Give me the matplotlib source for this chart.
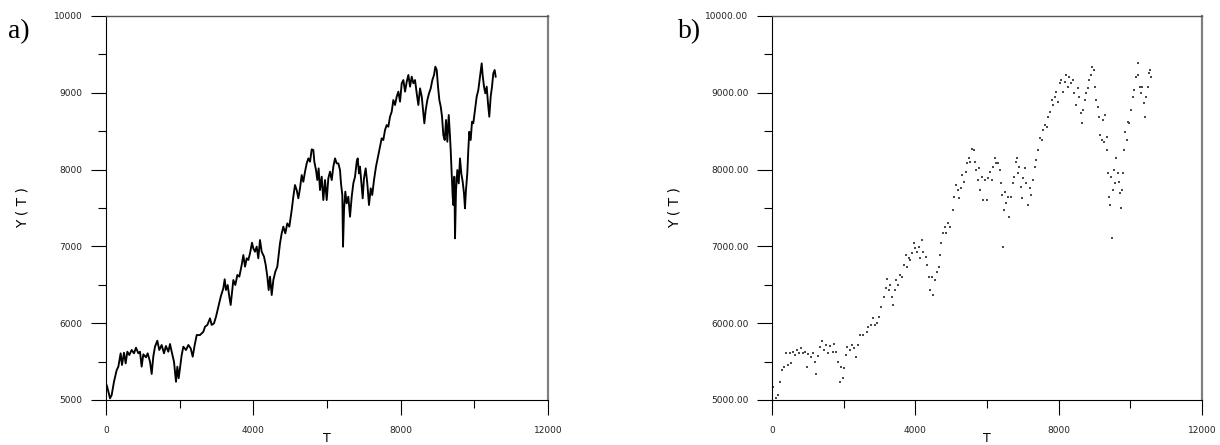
import matplotlib
matplotlib.use('Agg')
import matplotlib.pyplot as plt
from matplotlib.ticker import MultipleLocator, FormatStrFormatter

# series (T, Y(T))
t_values = [0, 36, 109, 154, 217, 290, 335, 398, 434, 489,
            534, 579, 633, 697, 760, 814, 878, 923, 968, 1013,
            1086, 1131, 1195, 1240, 1285, 1330, 1393, 1447, 1511, 1575,
            1626, 1692, 1738, 1783, 1846, 1900, 1937, 1973, 2009, 2055,
            2100, 2172, 2236, 2299, 2354, 2408, 2463,
            2552, 2643, 2688, 2751, 2824, 2869, 2932, 2987, 3050, 3115,
            3185, 3222, 3258, 3304, 3348, 3385, 3429, 3457, 3511, 3566,
            3620, 3684, 3729, 3775, 3820, 3864, 3910, 3964, 3999, 4045,
            4091, 4135, 4181, 4227, 4290, 4336, 4380, 4417, 4453, 4499,
            4543, 4597, 4651, 4689, 4724, 4770, 4814, 4868, 4922, 4977,
            5042, 5086, 5131, 5177, 5222, 5267, 5313, 5357, 5403, 5449,
            5493, 5539, 5585, 5629, 5656, 5701, 5737, 5773, 5810, 5856,
            5900, 5946, 5992, 6036, 6082, 6128, 6172, 6218, 6263, 6308,
            6353, 6380, 6416, 6435, 6462, 6497, 6535, 6579, 6625, 6671,
            6715, 6761, 6807, 6833, 6869, 6896, 6942, 6969, 7004, 7050,
            7094, 7140, 7187, 7228, 7276, 7330, 7366, 7420,
            7485, 7529, 7575, 7621, 7665, 7711, 7757, 7801, 7847, 7893,
            7937, 7983, 8029, 8073, 8119, 8165, 8209, 8255, 8300, 8345,
            8390, 8436, 8480, 8526, 8572, 8616, 8643, 8680, 8724, 8770,
            8816, 8860, 8906, 8941, 8979, 9014, 9050, 9088, 9123, 9158,
            9196, 9231, 9267, 9305, 9340, 9358, 9385, 9412, 9430, 9457,
            9476, 9503, 9538, 9576, 9611, 9646, 9684, 9719, 9746, 9773,
            9809, 9836, 9863, 9901, 9937, 9972, 10018, 10064, 10108, 10154,
            10200, 10225, 10263, 10298, 10336, 10371, 10406, 10444, 10480, 10515,
            10552, 10579]

y_values = [5217, 5165, 5022, 5065, 5238, 5390, 5434, 5608, 5456, 5616,
            5477, 5629, 5586, 5651, 5608, 5681, 5608, 5629, 5434, 5595,
            5556, 5608, 5499, 5339, 5569, 5694, 5772, 5651, 5716, 5608,
            5703, 5629, 5729, 5629, 5499, 5238, 5434, 5283, 5413, 5586,
            5694, 5651, 5716, 5673, 5564, 5716, 5846,
            5846, 5889, 5954, 5977, 6063, 5977, 5998, 6085, 6215, 6345,
            6454, 6572, 6432, 6497, 6345, 6237, 6432, 6562, 6497, 6628,
            6606, 6758, 6888, 6736, 6845, 6823, 6910, 7048, 6975, 6931,
            6997, 6845, 7083, 6931, 6866, 6758, 6606, 6432, 6606, 6367,
            6562, 6671, 6736, 6888, 7040, 7170, 7257, 7170, 7300, 7257,
            7474, 7647, 7799, 7734, 7626, 7756, 7929, 7842, 7973, 8081,
            8146, 8103, 8264, 8255, 8103, 7995, 7864, 8016, 7734, 7908,
            7604, 7864, 7604, 7886, 7973, 7864, 8038, 8146, 8081, 8081,
            7995, 7821, 7669, 6996, 7474, 7713, 7561, 7647, 7387, 7647,
            7821, 7908, 8103, 8146, 7951, 8038, 7778, 7626, 7886, 8016,
            7821, 7539, 7756, 7669, 7864, 8038, 8125, 8255,
            8407, 8385, 8515, 8580, 8558, 8689, 8754, 8906, 8841, 8950,
            9015, 8885, 9124, 9166, 9015, 9145, 9232, 9080, 9210, 9124,
            9166, 8993, 8841, 9058, 8950, 8733, 8603, 8776, 8906, 8993,
            9058, 9166, 9232, 9340, 9297, 9080, 8906, 8819, 8689, 8450,
            8385, 8646, 8363, 8711, 8428, 8255, 7951, 7647, 7539, 7908,
            7105, 7734, 7994, 7821, 8146, 7951, 7842, 7691, 7496, 7734,
            7951, 8255, 8493, 8385, 8624, 8603, 8776, 8950, 9037, 9210,
            9384, 9232, 9080, 8993, 9080, 8863, 8689, 8950, 9080, 9253,
            9297, 9210]

x_ticks = [0, 4000, 8000, 12000]
y_ticks = [5000, 6000, 7000, 8000, 9000, 10000]

fig = plt.figure(figsize=(12.2, 4.45), dpi=100)
ax_a = fig.add_axes([106 / 1220, 1 - 400 / 445, 442 / 1220, 384 / 445])
ax_b = fig.add_axes([772 / 1220, 1 - 400 / 445, 430 / 1220, 384 / 445])


def style_axes(ax, yfmt):
    ax.set_xlim(0, 12000)
    ax.set_ylim(5000, 10000)
    ax.set_xticks(x_ticks)
    ax.set_yticks(y_ticks)
    ax.xaxis.set_minor_locator(MultipleLocator(2000))
    ax.yaxis.set_minor_locator(MultipleLocator(500))
    ax.yaxis.set_major_formatter(FormatStrFormatter(yfmt))
    ax.tick_params(which='major', direction='out', length=11, width=0.8,
                   labelsize=6.5, pad=6, colors='black', labelcolor='#222222')
    ax.tick_params(which='minor', direction='out', length=5.5, width=0.8)
    ax.tick_params(axis='x', which='major', pad=8)
    for side in ['left', 'bottom']:
        ax.spines[side].set_color('black')
        ax.spines[side].set_linewidth(0.8)
    ax.spines['top'].set_color('#555555')
    ax.spines['top'].set_linewidth(1.0)
    ax.spines['right'].set_color('#808080')
    ax.spines['right'].set_linewidth(1.6)
    ax.set_ylabel('Y ( T )', fontsize=10)


# a) line
ax_a.plot(t_values, y_values, color='black', linewidth=1.35)
style_axes(ax_a, '%d')
ax_a.yaxis.set_label_coords(-0.172, 0.5)

# b) dots
ax_b.scatter(t_values, y_values, s=1.1, color='#4a4a4a', marker='s', linewidths=0)
style_axes(ax_b, '%.2f')
ax_b.yaxis.set_label_coords(-0.21, 0.5)

# x labels sit at the bottom edge
fig.text(327 / 1220, 1 - 432 / 445, 'T', ha='center', va='top', fontsize=9)
fig.text(987 / 1220, 1 - 432 / 445, 'T', ha='center', va='top', fontsize=9)

# panel letters
fig.text(8 / 1220, 1 - 32 / 445, 'a)', ha='left', va='center', fontsize=20,
         family='Liberation Serif')
fig.text(678 / 1220, 1 - 32 / 445, 'b)', ha='left', va='center', fontsize=20,
         family='Liberation Serif')

fig.savefig('out.png', dpi=100)
